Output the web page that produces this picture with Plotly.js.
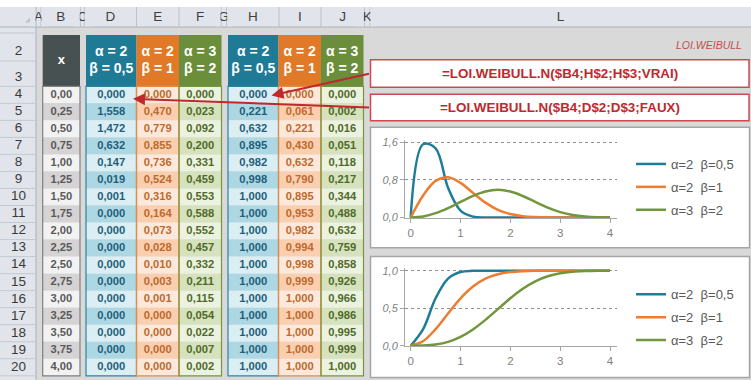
<!DOCTYPE html>
<html><head><meta charset="utf-8">
<script src="https://cdn.plot.ly/plotly-3.0.1.min.js"></script>
<style>html,body{margin:0;padding:0;background:#fff;overflow:hidden}#chart{width:751px;height:380px}</style>
</head><body><div id="chart"></div>
<script>
// ---------------- data ----------------
const xValues   = [0,0.25,0.5,0.75,1,1.25,1.5,1.75,2,2.25,2.5,2.75,3,3.25,3.5,3.75,4];
const pdfA2B05  = [0,1.558,1.472,0.632,0.147,0.019,0.001,0,0,0,0,0,0,0,0,0,0];
const pdfA2B1   = [0,0.470,0.779,0.855,0.736,0.524,0.316,0.164,0.073,0.028,0.010,0.003,0.001,0,0,0,0];
const pdfA3B2   = [0,0.023,0.092,0.200,0.331,0.459,0.553,0.588,0.552,0.457,0.332,0.211,0.115,0.054,0.022,0.007,0.002];
const cdfA2B05  = [0,0.221,0.632,0.895,0.982,0.998,1,1,1,1,1,1,1,1,1,1,1];
const cdfA2B1   = [0,0.061,0.221,0.430,0.632,0.790,0.895,0.953,0.982,0.994,0.998,0.999,1,1,1,1,1];
const cdfA3B2   = [0,0.002,0.016,0.051,0.118,0.217,0.344,0.488,0.632,0.759,0.858,0.926,0.966,0.986,0.995,0.999,1];
const alphaLabels = ['α = 2','α = 2','α = 3'];
const betaLabels  = ['β = 0,5','β = 1','β = 2'];
const seriesNames = ['α=2\u00a0\u00a0β=0,5','α=2\u00a0\u00a0β=1','α=3\u00a0\u00a0β=2'];
const colLetters  = ['A','B','C','D','E','F','G','H','I','J','K','L'];
const rowNumbers  = ['2','3','4','5','6','7','8','9','10','11','12','13','14','15','16','17','18','19','20'];
const xHeader     = 'x';
const sheetTitle  = 'LOI.WEIBULL';
const formulaCdf  = '=LOI.WEIBULL.N($B4;H$2;H$3;VRAI)';
const formulaPdf  = '=LOI.WEIBULL.N($B4;D$2;D$3;FAUX)';
const xTicks  = [0,1,2,3,4];
const yTicks1 = [0,0.8,1.6];
const yTicks2 = [0,0.5,1];

// ---------------- layout constants ----------------
const W = 751, H = 380;
const FONT = 'Liberation Sans, Arial, sans-serif';
const colEdges = [36,41,80.3,84.3,136.5,179,221,226.7,279,321,364.3,370,751];
const ROW0 = 86.3, RH = 17.03, NR = 17, HEAD_TOP = 35;
const lineColors = ['#1f7d99','#ed7d31','#71963c'];

const shapes = [];
function rect(x0,y0,x1,y1,fill,lc,lw,layer){
  shapes.push({type:'rect',xref:'x',yref:'y',x0:x0,y0:y0,x1:x1,y1:y1,
    fillcolor:fill||'rgba(0,0,0,0)',line:{color:lc||'rgba(0,0,0,0)',width:lc?(lw||1):0},layer:layer||'below'});
}
function seg(x0,y0,x1,y1,c,w,layer){
  shapes.push({type:'line',xref:'x',yref:'y',x0:x0,y0:y0,x1:x1,y1:y1,line:{color:c,width:w||1},layer:layer||'below'});
}
// sheet frame
rect(0,0,W,7,'#ffffff');
rect(0,7,W,27,'#e1e5eb');
rect(0,27,36,H,'#e1e5eb');
seg(0,27,W,27,'#a9b1bc');
seg(36,7,36,H,'#a9b1bc');
for (let i=1;i<colEdges.length-1;i++) seg(colEdges[i],7,colEdges[i],27,'#bac1cb');
const rowEdges = [33,61];
for (let k=0;k<=NR;k++) rowEdges.push(ROW0+k*RH);
rowEdges.forEach(e=>seg(0,e,36,e,'#c3c9d1'));
shapes.push({type:'path',xref:'x',yref:'y',path:'M 25 22.5 L 34 22.5 L 34 13.5 Z',fillcolor:'#c0c5cb',line:{width:0},layer:'below'});

// table blocks
const blocks = [
  {x0:42.7,x1:80,   hdr:'#485152',light:'#f2f2f2',dark:'#d5d3d3',border:'#808080',txt:'#5a5a5a'},
  {x0:86,  x1:136.5,hdr:'#1f7a95',light:'#dbeef4',dark:'#aed7e4',border:'#2a85a1',txt:'#1f5f7a'},
  {x0:136.5,x1:179, hdr:'#e07a28',light:'#fde9dc',dark:'#f9cfb0',border:'#ea8a3e',txt:'#c0692c'},
  {x0:179, x1:221.5,hdr:'#6a8e3a',light:'#ecf2e0',dark:'#d5e2bd',border:'#76963f',txt:'#506a29'},
  {x0:228, x1:278.5,hdr:'#1f7a95',light:'#dbeef4',dark:'#aed7e4',border:'#2a85a1',txt:'#1f5f7a'},
  {x0:278.5,x1:321, hdr:'#e07a28',light:'#fde9dc',dark:'#f9cfb0',border:'#ea8a3e',txt:'#c0692c'},
  {x0:321, x1:363.5,hdr:'#6a8e3a',light:'#ecf2e0',dark:'#d5e2bd',border:'#76963f',txt:'#506a29'}
];
blocks.forEach(b=>{
  rect(b.x0,HEAD_TOP,b.x1,ROW0,b.hdr);
  for (let i=0;i<NR;i++) rect(b.x0,ROW0+i*RH,b.x1,ROW0+(i+1)*RH,i%2?b.dark:b.light);
});
blocks.forEach(b=>rect(b.x0,ROW0,b.x1,ROW0+NR*RH,null,b.border,1.2));

// formula boxes
rect(370.5,59.8,749,87.3,'#ffffff','#cc4a50',1.5);
rect(370.5,94.3,749,120.7,'#ffffff','#cc4a50',1.5);
// chart boxes
rect(370.5,127.3,749.5,247.7,'#ffffff','#a6a6a6',1.5);
rect(370.5,256.5,749.5,377.5,'#ffffff','#a6a6a6',1.5);

// covers clipping letters of narrow columns (A, C, G, K)
[0,2,6,10].forEach(ci=>{
  const l = colEdges[ci], r = colEdges[ci+1];
  rect(l-6,7.6,l-0.5,26.4,'#e1e5eb',null,0,'above');
  rect(r+0.5,7.6,r+6,26.4,'#e1e5eb',null,0,'above');
});

// ---------------- traces ----------------
const traces = [];
function txt(x,y,t,size,color,weight){
  traces.push({type:'scatter',mode:'text',x:x,y:y,text:t,xaxis:'x',yaxis:'y',
    textposition:'middle center',cliponaxis:false,hoverinfo:'skip',showlegend:false,
    textfont:{family:FONT,size:size,color:color,weight:weight||'normal'}});
}
const colCenters = colLetters.map((_,i)=>(colEdges[i]+colEdges[i+1])/2);
txt(colCenters, colCenters.map(()=>17.3), colLetters, 13.5, '#3f3f3f');
const rowCenters = rowNumbers.map((_,i)=> i===0?52: i===1?77.5 : ROW0+RH*(i-2+0.5));
txt(rowCenters.map(()=>18.5), rowCenters, rowNumbers, 13.5, '#3a3a3a');

const fmt3 = v=>v.toFixed(3).replace('.',',');
const dataRows = xValues.map((_,i)=>ROW0+RH*(i+0.5));
const colSeries = [pdfA2B05,pdfA2B1,pdfA3B2,cdfA2B05,cdfA2B1,cdfA3B2];
const bc = b=>(b.x0+b.x1)/2;
txt(dataRows.map(()=>bc(blocks[0])), dataRows, xValues.map(v=>v.toFixed(2).replace('.',',')), 11.2, blocks[0].txt, 'bold');
colSeries.forEach((s,k)=>{
  const b = blocks[k+1];
  txt(dataRows.map(()=>bc(b)), dataRows, s.map(fmt3), 11.2, b.txt, 'bold');
});
txt([bc(blocks[0])],[61],[xHeader],13,'#ffffff','bold');
const hdrX = blocks.slice(1).map(bc);
txt(hdrX, hdrX.map(()=>52.3), alphaLabels.concat(alphaLabels), 14, '#ffffff','bold');
txt(hdrX, hdrX.map(()=>69.5), betaLabels.concat(betaLabels), 14, '#ffffff','bold');

// chart lines
const pdfs = [pdfA2B05,pdfA2B1,pdfA3B2], cdfs = [cdfA2B05,cdfA2B1,cdfA3B2];
pdfs.forEach((s,k)=>traces.push({type:'scatter',mode:'lines',x:xValues,y:s,xaxis:'x2',yaxis:'y2',
  name:seriesNames[k],legend:'legend',legendgroup:'p'+k,hoverinfo:'skip',
  line:{color:lineColors[k],width:2.5,shape:'spline',smoothing:1}}));
cdfs.forEach((s,k)=>traces.push({type:'scatter',mode:'lines',x:xValues,y:s,xaxis:'x3',yaxis:'y3',
  name:seriesNames[k],legend:'legend2',legendgroup:'c'+k,hoverinfo:'skip',
  line:{color:lineColors[k],width:2.5,shape:'spline',smoothing:1}}));

// ---------------- layout ----------------
const px = v=>v/W, py = v=>(H-v)/H;
const axCommonX = {showline:true,linecolor:'#a6a6a6',linewidth:1,ticks:'outside',ticklen:4,tickcolor:'#a6a6a6',
  tickvals:xTicks,tickfont:{family:FONT,size:11.5,color:'#7f7f7f'},showgrid:false,zeroline:false,fixedrange:true};
const axCommonY = {showline:true,linecolor:'#a6a6a6',linewidth:1,ticks:'outside',ticklen:4,tickcolor:'#a6a6a6',
  tickformat:'.1f',showgrid:true,gridcolor:'#8f8f8f',gridwidth:1,griddash:'3px,3px',zeroline:false,fixedrange:true,
  tickfont:{family:FONT,size:11,color:'#7f7f7f',style:'italic'}};
const legCommon = {xanchor:'left',yanchor:'top',bgcolor:'rgba(0,0,0,0)',borderwidth:0,traceorder:'grouped',
  tracegroupgap:3,itemwidth:30,font:{family:FONT,size:13,color:'#595959'},itemclick:false,itemdoubleclick:false};

const layout = {
  width:W,height:H,autosize:false,margin:{l:0,r:0,t:0,b:0,pad:0},
  paper_bgcolor:'#d9d9d9',plot_bgcolor:'rgba(0,0,0,0)',separators:', ',
  font:{family:FONT},showlegend:true,dragmode:false,hovermode:false,
  xaxis:{domain:[0,1],range:[0,W],visible:false,fixedrange:true},
  yaxis:{domain:[0,1],range:[H,0],visible:false,fixedrange:true},
  xaxis2:Object.assign({domain:[px(405),px(617)],range:[-0.114,4.14],anchor:'y2'},axCommonX),
  yaxis2:Object.assign({domain:[py(218.2),py(139.95)],range:[-0.015,1.65],anchor:'x2',tickvals:yTicks1},axCommonY),
  xaxis3:Object.assign({domain:[px(405),px(617)],range:[-0.114,4.14],anchor:'y3'},axCommonX),
  yaxis3:Object.assign({domain:[py(346.45),py(268.45)],range:[-0.01,1.03],anchor:'x3',tickvals:yTicks2},axCommonY),
  legend:Object.assign({x:px(631),y:py(149)},legCommon),
  legend2:Object.assign({x:px(631),y:py(279.3)},legCommon),
  shapes:shapes,
  annotations:[
    {xref:'x',yref:'y',x:744,y:44.5,xanchor:'right',yanchor:'middle',showarrow:false,text:sheetTitle,
     font:{family:FONT,size:10.5,color:'#c0504d',style:'italic'}},
    {xref:'x',yref:'y',x:559.7,y:73.8,showarrow:false,text:formulaCdf,
     font:{family:FONT,size:13.4,color:'#c0282d',weight:'bold'}},
    {xref:'x',yref:'y',x:559.7,y:107.6,showarrow:false,text:formulaPdf,
     font:{family:FONT,size:13.4,color:'#c0282d',weight:'bold'}},
    {xref:'x',yref:'y',axref:'x',ayref:'y',x:271.5,y:95.5,ax:370.5,ay:73.5,text:'',showarrow:true,
     arrowhead:2,arrowsize:1.2,arrowwidth:2,arrowcolor:'#c0282d',standoff:0},
    {xref:'x',yref:'y',axref:'x',ayref:'y',x:133,y:98.8,ax:370.5,ay:107.5,text:'',showarrow:true,
     arrowhead:2,arrowsize:1.2,arrowwidth:2,arrowcolor:'#c0282d',standoff:0}
  ]
};
Plotly.newPlot('chart',traces,layout,{displayModeBar:false,staticPlot:true});
</script></body></html>
